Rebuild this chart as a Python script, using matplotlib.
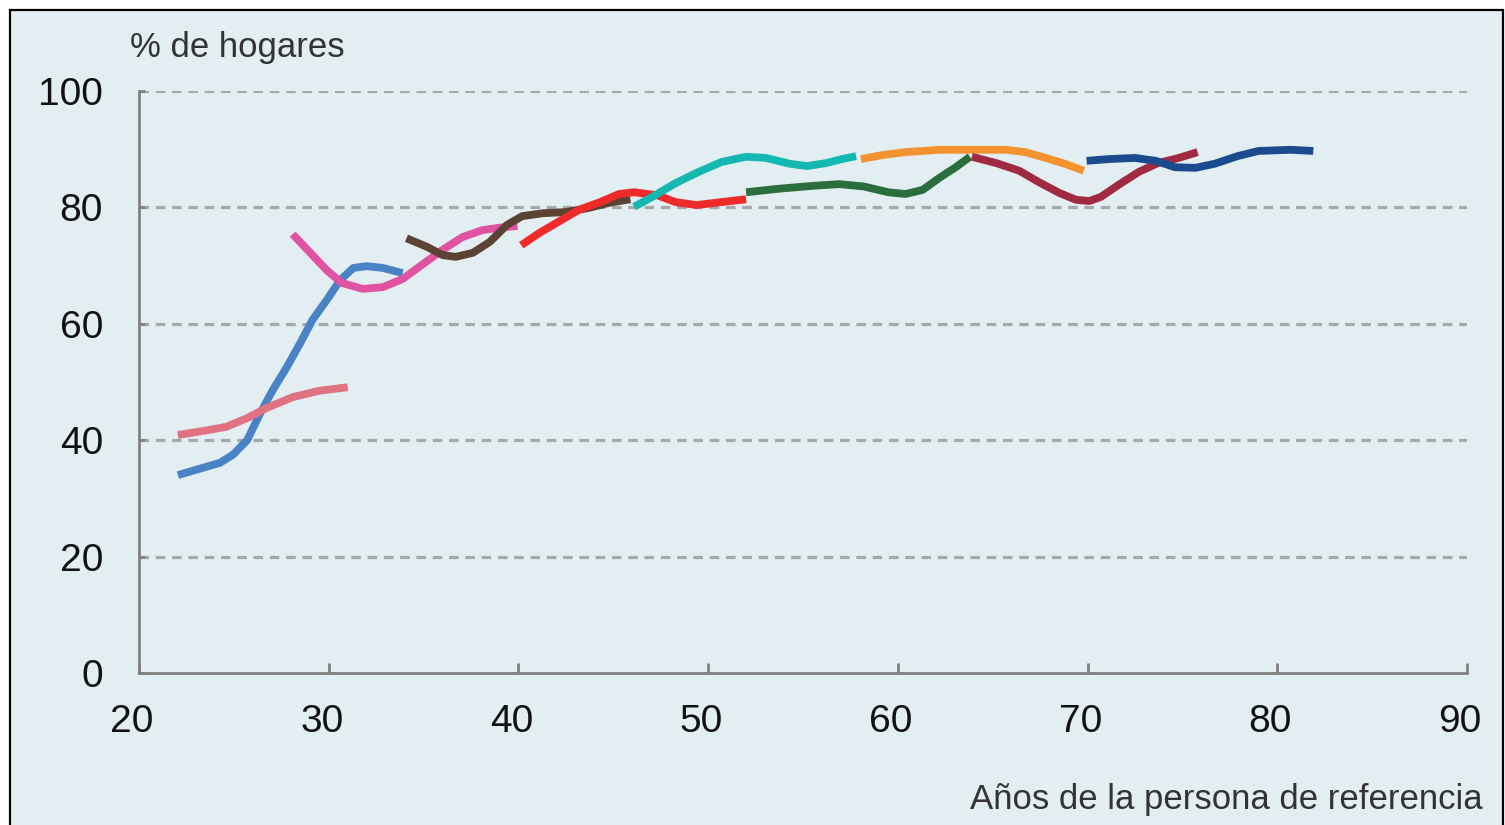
import matplotlib
matplotlib.use("Agg")
import matplotlib.pyplot as plt
from matplotlib.patches import Rectangle
import matplotlib.transforms as mtransforms

plt.rcParams['font.family'] = ['Liberation Sans', 'DejaVu Sans']

# Data (age, % of households) per cohort curve
s1_x = [22.05, 23.2, 24.26, 24.95, 25.7, 26.4, 27.05, 27.8, 28.5, 29.15, 29.9, 30.6, 31.3, 32.0, 32.85, 33.9]
s1_y = [34.0, 35.1, 36.1, 37.5, 40.0, 44.7, 48.6, 52.6, 56.7, 60.7, 64.1, 67.5, 69.6, 69.9, 69.6, 68.7]

s2_x = [22.05, 23.4, 24.6, 25.7, 26.7, 28.1, 29.5, 31.0]
s2_y = [40.9, 41.6, 42.3, 43.8, 45.5, 47.4, 48.5, 49.1]

s3_x = [28.1, 29.0, 29.9, 30.7, 31.8, 32.85, 33.9, 34.9, 36.0, 37.05, 38.1, 39.2, 39.95]
s3_y = [75.4, 72.3, 69.2, 67.0, 66.0, 66.3, 67.7, 70.1, 72.7, 74.9, 76.1, 76.6, 76.8]

s4_x = [34.1, 35.2, 36.0, 36.7, 37.6, 38.5, 39.4, 40.2, 41.3, 42.5, 43.7, 44.8, 45.9]
s4_y = [74.7, 73.2, 71.8, 71.5, 72.2, 74.1, 77.0, 78.5, 79.0, 79.2, 79.9, 80.8, 81.4]

s5_x = [40.15, 41.1, 42.2, 43.2, 44.3, 45.3, 46.1, 47.3, 48.3, 49.4, 50.4, 52.0]
s5_y = [73.5, 75.6, 77.7, 79.6, 80.9, 82.3, 82.6, 82.1, 80.9, 80.4, 80.8, 81.4]

s6_x = [46.1, 47.05, 48.3, 49.5, 50.7, 52.0, 53.05, 54.3, 55.2, 56.2, 57.05, 57.8]
s6_y = [80.1, 81.8, 84.2, 86.1, 87.8, 88.7, 88.5, 87.5, 87.1, 87.6, 88.3, 88.8]

s7_x = [52.0, 53.7, 55.5, 56.9, 58.2, 59.5, 60.4, 61.3, 62.2, 63.05, 63.8]
s7_y = [82.6, 83.2, 83.7, 84.0, 83.6, 82.6, 82.3, 83.0, 85.1, 86.9, 88.7]

s8_x = [58.05, 59.2, 60.4, 62.2, 63.9, 65.7, 66.7, 67.8, 68.8, 69.8]
s8_y = [88.3, 89.0, 89.5, 89.9, 89.9, 89.9, 89.5, 88.5, 87.5, 86.3]

s9_x = [63.9, 65.2, 66.4, 67.4, 68.5, 69.4, 70.1, 70.7, 71.6, 72.7, 73.7, 74.8, 75.8]
s9_y = [88.7, 87.6, 86.3, 84.4, 82.5, 81.3, 81.1, 81.8, 83.8, 86.1, 87.6, 88.5, 89.5]

s10_x = [69.95, 71.1, 72.5, 73.6, 74.6, 75.7, 76.7, 77.9, 79.0, 80.7, 81.9]
s10_y = [88.0, 88.3, 88.5, 88.0, 86.9, 86.8, 87.5, 88.8, 89.7, 89.9, 89.7]

series = [
    (s1_x, s1_y, '#4a82c6'),
    (s2_x, s2_y, '#e07282'),
    (s3_x, s3_y, '#e052a2'),
    (s4_x, s4_y, '#5c4232'),
    (s5_x, s5_y, '#ee2a2a'),
    (s6_x, s6_y, '#14b8b0'),
    (s7_x, s7_y, '#2a6e3e'),
    (s8_x, s8_y, '#f29330'),
    (s9_x, s9_y, '#a02a42'),
    (s10_x, s10_y, '#1c4a8e'),
]

x_ticks = [20, 30, 40, 50, 60, 70, 80, 90]
y_ticks = [0, 20, 40, 60, 80, 100]

W, H = 1505, 825
bg = '#e3eef3'
fig = plt.figure(figsize=(W / 100, H / 100), dpi=100, facecolor='white')
fig.patches.append(Rectangle((10 / W, -0.02), (1503 - 10) / W, 1 - 10 / H + 0.02,
                             transform=fig.transFigure, facecolor=bg,
                             edgecolor='black', linewidth=1.6, zorder=-10))

ax = fig.add_axes([139 / W, 1 - 673 / H, (1467 - 139) / W, (673 - 91) / H])
ax.set_facecolor('none')
ax.set_xlim(20, 90)
ax.set_ylim(0, 100)

for y in y_ticks[1:]:
    ax.axhline(y, color='#a8a8a8', lw=2.3, ls=(0, (3.0, 2.1)), zorder=1)

for xs, ys, c in series:
    ax.plot(xs, ys, color=c, lw=5.6, solid_capstyle='butt',
            solid_joinstyle='round', zorder=3)

for s in ['top', 'right']:
    ax.spines[s].set_visible(False)
for s in ['left', 'bottom']:
    ax.spines[s].set_color('#808080')
    ax.spines[s].set_linewidth(2.0)

ax.set_xticks(x_ticks)
ax.set_yticks(y_ticks)
ax.tick_params(axis='x', direction='in', length=7, width=2.0, color='#808080',
               labelsize=28, pad=22, labelcolor='#111111')
ax.tick_params(axis='y', direction='in', length=4, width=2.0, color='#808080',
               labelsize=28, pad=26, labelcolor='#111111')

shift = mtransforms.ScaledTranslation(-7 / 100, 0, fig.dpi_scale_trans)
for lbl in ax.get_xticklabels():
    lbl.set_transform(lbl.get_transform() + shift)

fig.text(130 / W, 1 - 48 / H, '% de hogares', fontsize=25, color='#333333',
         ha='left', va='center')
fig.text(1483 / W, 1 - 799 / H, 'Años de la persona de referencia', fontsize=25,
         color='#333333', ha='right', va='center')

fig.savefig('out.png', dpi=100, facecolor='white')
